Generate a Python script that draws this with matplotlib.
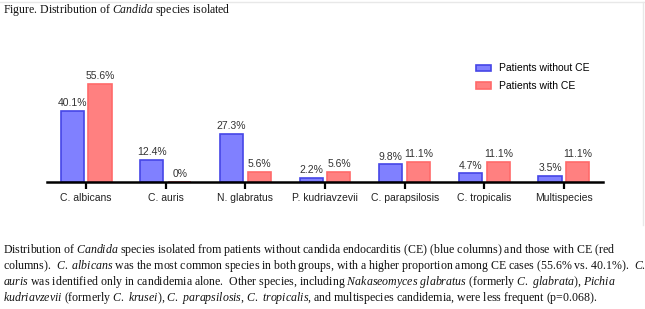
import matplotlib
matplotlib.use("Agg")
import matplotlib.pyplot as plt
import numpy as np
from matplotlib.lines import Line2D

plt.rcParams['mathtext.fontset'] = 'custom'
plt.rcParams['mathtext.rm'] = 'Liberation Serif'
plt.rcParams['mathtext.it'] = 'Liberation Serif:italic'

# data
species = ['C. albicans', 'C. auris', 'N. glabratus', 'P. kudriavzevii',
           'C. parapsilosis', 'C. tropicalis', 'Multispecies']
without_ce = [40.1, 12.4, 27.3, 2.2, 9.8, 4.7, 3.5]
with_ce = [55.6, 0, 5.6, 5.6, 11.1, 11.1, 11.1]
series_names = ['Patients without CE', 'Patients with CE']


def it(s):
    # italic words, keep normal spaces between them
    return ' '.join(r'$\mathit{' + w + '}$' for w in s.split(' '))


title = 'Figure. Distribution of ' + it('Candida') + ' species isolated'
caption = [
    'Distribution of ' + it('Candida') + ' species isolated from patients without candida endocarditis (CE) (blue columns) and those with CE (red',
    'columns).  ' + it('C. albicans') + ' was the most common species in both groups, with a higher proportion among CE cases (55.6% vs. 40.1%).  ' + it('C.'),
    it('auris') + ' was identified only in candidemia alone.  Other species, including ' + it('Nakaseomyces glabratus') + ' (formerly ' + it('C. glabrata') + '), ' + it('Pichia'),
    it('kudriavzevii') + ' (formerly ' + it('C. krusei') + '), ' + it('C. parapsilosis') + ', ' + it('C. tropicalis') + ', and multispecies candidemia, were less frequent (p=0.068).',
]

W, H = 645, 309
fig = plt.figure(figsize=(W / 100, H / 100), dpi=100)
fig.patch.set_facecolor('white')

ax = fig.add_axes([47 / W, 1 - 181.7 / H, 556 / W, 123 / H])

x = np.arange(len(species))
bw = 0.29
off = 0.175
blue_face, blue_edge = '#8080ff', '#4646e6'
red_face, red_edge = '#ff8080', '#ff6a6a'

b1 = ax.bar(x - off, without_ce, bw, color=blue_face, edgecolor=blue_edge,
            linewidth=1.2, label=series_names[0], zorder=2)
b2 = ax.bar(x + off, with_ce, bw, color=red_face, edgecolor=red_edge,
            linewidth=1.2, label=series_names[1], zorder=2)

lab_kw = dict(fontsize=7.5, color='#333333', family='Liberation Sans')
ax.bar_label(b1, labels=[f'{v:g}%' for v in without_ce], padding=2, **lab_kw)
ax.bar_label(b2, labels=[f'{v:g}%' for v in with_ce], padding=2, **lab_kw)

ax.set_xlim(-0.49, 6.49)
ax.set_ylim(0, 70)
ax.set_xticks(x)
ax.set_xticklabels(species, fontsize=7.5, family='Liberation Sans', color='#222222')
ax.tick_params(axis='x', length=5, width=1.6, color='black', pad=3)
ax.set_yticks([])
for s in ['top', 'right', 'left']:
    ax.spines[s].set_visible(False)
ax.spines['bottom'].set_linewidth(1.8)

ax.legend(loc='upper left', bbox_to_anchor=(467 / W, 1 - 54 / H),
          bbox_transform=fig.transFigure, frameon=False,
          prop={'family': 'Liberation Sans', 'size': 7.5},
          handlelength=1.4, handleheight=0.55, handletextpad=0.8,
          labelspacing=0.75)

fig.text(3 / W, 1 - 10 / H, title, fontsize=8.5, family='Liberation Serif',
         va='center', ha='left', color='#111111')

ys = [250, 266.5, 282, 298]
for line, yy in zip(caption, ys):
    fig.text(3 / W, 1 - yy / H, line, fontsize=8.55, family='Liberation Serif',
             va='center', ha='left', color='#111111')

# faint frame like the screenshot
fig.add_artist(Line2D([0, 1], [1 - 2 / H, 1 - 2 / H], color='#e8e8e8', lw=1))
fig.add_artist(Line2D([1 - 2 / W, 1 - 2 / W], [1 - 2 / H, 1 - 225 / H], color='#e8e8e8', lw=1))

fig.savefig('out.png', dpi=100)
